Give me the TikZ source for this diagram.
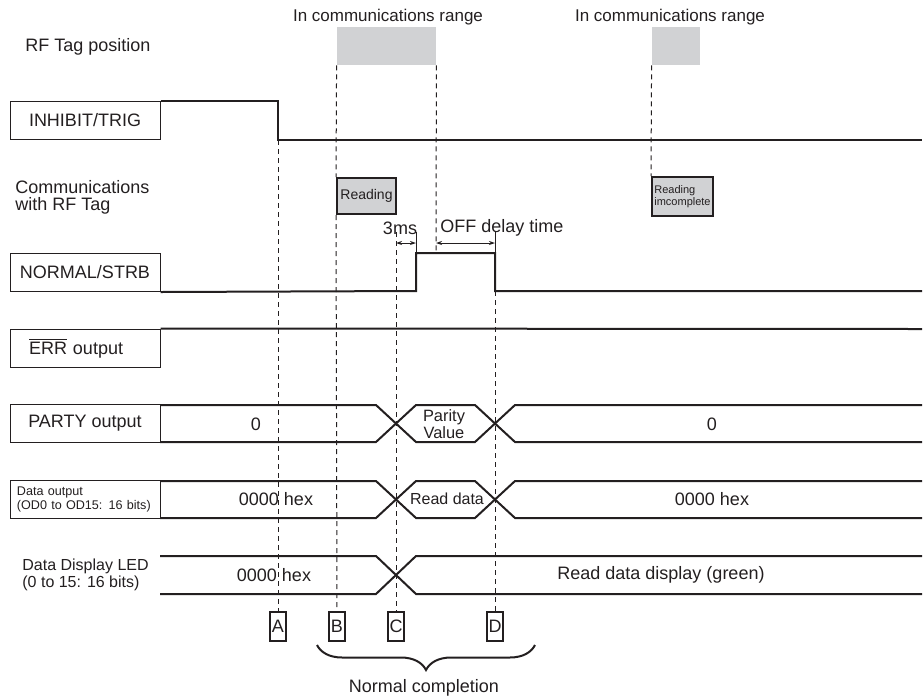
\documentclass[tikz,border=0pt]{standalone}
\usepackage{fontspec}
\setmainfont{Liberation Sans}
\usetikzlibrary{arrows.meta,decorations.pathreplacing}
\definecolor{Ink}    {RGB}{35,31,32}
\definecolor{TagGrey}{RGB}{209,210,212}
\tikzset{
  lbl/.style    ={font=\fontsize{9}{10}\selectfont},
  sigbox/.style ={rectangle, draw=Ink, line width=0.5pt, inner sep=0pt,
                  minimum width=75pt, minimum height=19pt,
                  font=\fontsize{9}{10}\selectfont},
  tagzone/.style={rectangle, fill=TagGrey, inner sep=0pt, minimum height=19pt},
  commbox/.style={rectangle, fill=TagGrey, draw=Ink, line width=1pt, inner sep=0pt},
  letterbox/.style={rectangle, draw=Ink, line width=1pt, inner sep=0pt,
                  minimum width=8pt, minimum height=14.5pt,
                  font=\fontsize{9}{10}\selectfont},
  sig/.style    ={line width=1pt, draw=Ink},
  guide/.style  ={line width=0.5pt, draw=Ink, dash pattern=on 2.5pt off 2pt},
  dimline/.style={line width=0.5pt, draw=Ink},
  dimarrow/.style={{Stealth[length=3pt,width=2pt]}-{Stealth[length=3pt,width=2pt]},
                  line width=0.5pt, draw=Ink}
}

\begin{document}
\begin{tikzpicture}[x=0.5pt, y=-0.5pt, color=Ink]
  \useasboundingbox (0,0) rectangle (923,698);

  % row labels
  \node[lbl, anchor=west, inner sep=0pt] (tagpos) at (25,47) {RF Tag position};
  \node[sigbox] (inh) at (85,120.5) {INHIBIT/TRIG};
  \node[anchor=west, inner sep=0pt, align=left, font=\fontsize{9}{8.5}\selectfont]
       (comm) at (15,197) {Communications\\with RF Tag};
  \node[sigbox] (strb) at (85,272.5) {NORMAL/STRB};
  \node[sigbox, text width=56pt, inner xsep=9.5pt, align=left]
       (err) at (85,348) {$\overline{\mbox{ERR}}$ output};
  \node[sigbox] (party) at (85,423.5) {PARTY output};
  \node[sigbox, text width=68pt, inner xsep=3.5pt, align=left,
        font=\fontsize{6.3}{7}\selectfont]
       (dout) at (85,499.5) {Data output\\(OD0 to OD15: 16 bits)};
  \node[anchor=west, inner sep=0pt, align=left, font=\fontsize{8}{8.5}\selectfont]
       (led) at (22,575) {Data Display LED\\(0 to 15: 16 bits)};

  % RF tag in range
  \node[tagzone, minimum width=49.5pt] (zone1) at (386.5,46) {};
  \node[tagzone, minimum width=24pt]   (zone2) at (676,46) {};
  \node[font=\fontsize{8.5}{9}\selectfont] (range1) at (388,17) {In communications range};
  \node[font=\fontsize{8.5}{9}\selectfont] (range2) at (670,17) {In communications range};

  \node[commbox, minimum width=29.5pt, minimum height=18pt,
        font=\fontsize{7}{8}\selectfont] (read) at (366.5,196) {Reading};
  \node[commbox, minimum width=30.5pt, minimum height=19.5pt, align=left,
        font=\fontsize{5.5}{6}\selectfont] (noread) at (682.5,196.5) {Reading\\imcomplete};

  % timing points
  \foreach \n/\x in {A/278, B/337, C/396, D/495}
    \node[letterbox] (\n) at (\x,626.5) {\n};

  \coordinate (cgo) at (396,232);
  \draw[guide] (278,140) -- (A.north);
  \draw[guide] (zone1.south west) -- (read.north west);
  \draw[guide] (read.south west) -- (B.north);
  \draw[guide] (cgo) -- (C.north);
  \draw[guide] (zone1.south east) -- (436,253);
  \draw[guide] (495,291) -- (D.north);
  \draw[guide] (zone2.south west) -- (noread.north west);

  % signals
  \draw[sig] (inh.north east) -- (278,101) -- (278,140) -- (922,140);
  \draw[sig] (strb.south east) -- (416,291) -- (416,253) -- (495,253)
             -- (495,291) -- (922,291);
  \draw[sig] (err.north east) -- (922,329);
  \foreach \t/\b in {405/442, 481/518} {
    \draw[sig] (160,\t) -- (376,\t) -- (416,\b) -- (475,\b) -- (515,\t) -- (922,\t);
    \draw[sig] (160,\b) -- (376,\b) -- (416,\t) -- (475,\t) -- (515,\b) -- (922,\b);
  }
  \draw[sig] (160,556) -- (376,556) -- (416,594) -- (922,594);
  \draw[sig] (160,594) -- (376,594) -- (416,556) -- (922,556);

  % delays
  \draw[dimline] (416,232) -- (416,253);
  \draw[dimline] (495,232) -- (495,253);
  \draw[dimarrow] (396,243) -- (416,243);
  \draw[dimarrow] (436,243) -- (495,243);
  \node[lbl] (t3ms) at (400,228) {3ms};
  \node[lbl, anchor=west, inner sep=0pt] (toff) at (440,228) {OFF delay time};

  % bus values
  \node[lbl] (p0) at (256,424) {0};
  \node[align=center, font=\fontsize{8.2}{8.5}\selectfont] (pval) at (444,424) {Parity\\Value};
  \node[lbl] (p1) at (712,424) {0};
  \node[lbl] (d0) at (276,499) {0000 hex};
  \node[font=\fontsize{8}{9}\selectfont] (dread) at (447,499) {Read data};
  \node[lbl] (d1) at (712,499) {0000 hex};
  \node[lbl] (l0) at (274,575) {0000 hex};
  \node[lbl] (l1) at (661,575) {Read data display (green)};

  % completion span
  \coordinate (bl) at (317,645);
  \coordinate (br) at (535,645);
  \draw[sig, decorate, decoration={brace, mirror, amplitude=12.5pt}] (bl) -- (br);
  \node[lbl] (normal) at (424,688) {Normal completion};
\end{tikzpicture}
\end{document}
